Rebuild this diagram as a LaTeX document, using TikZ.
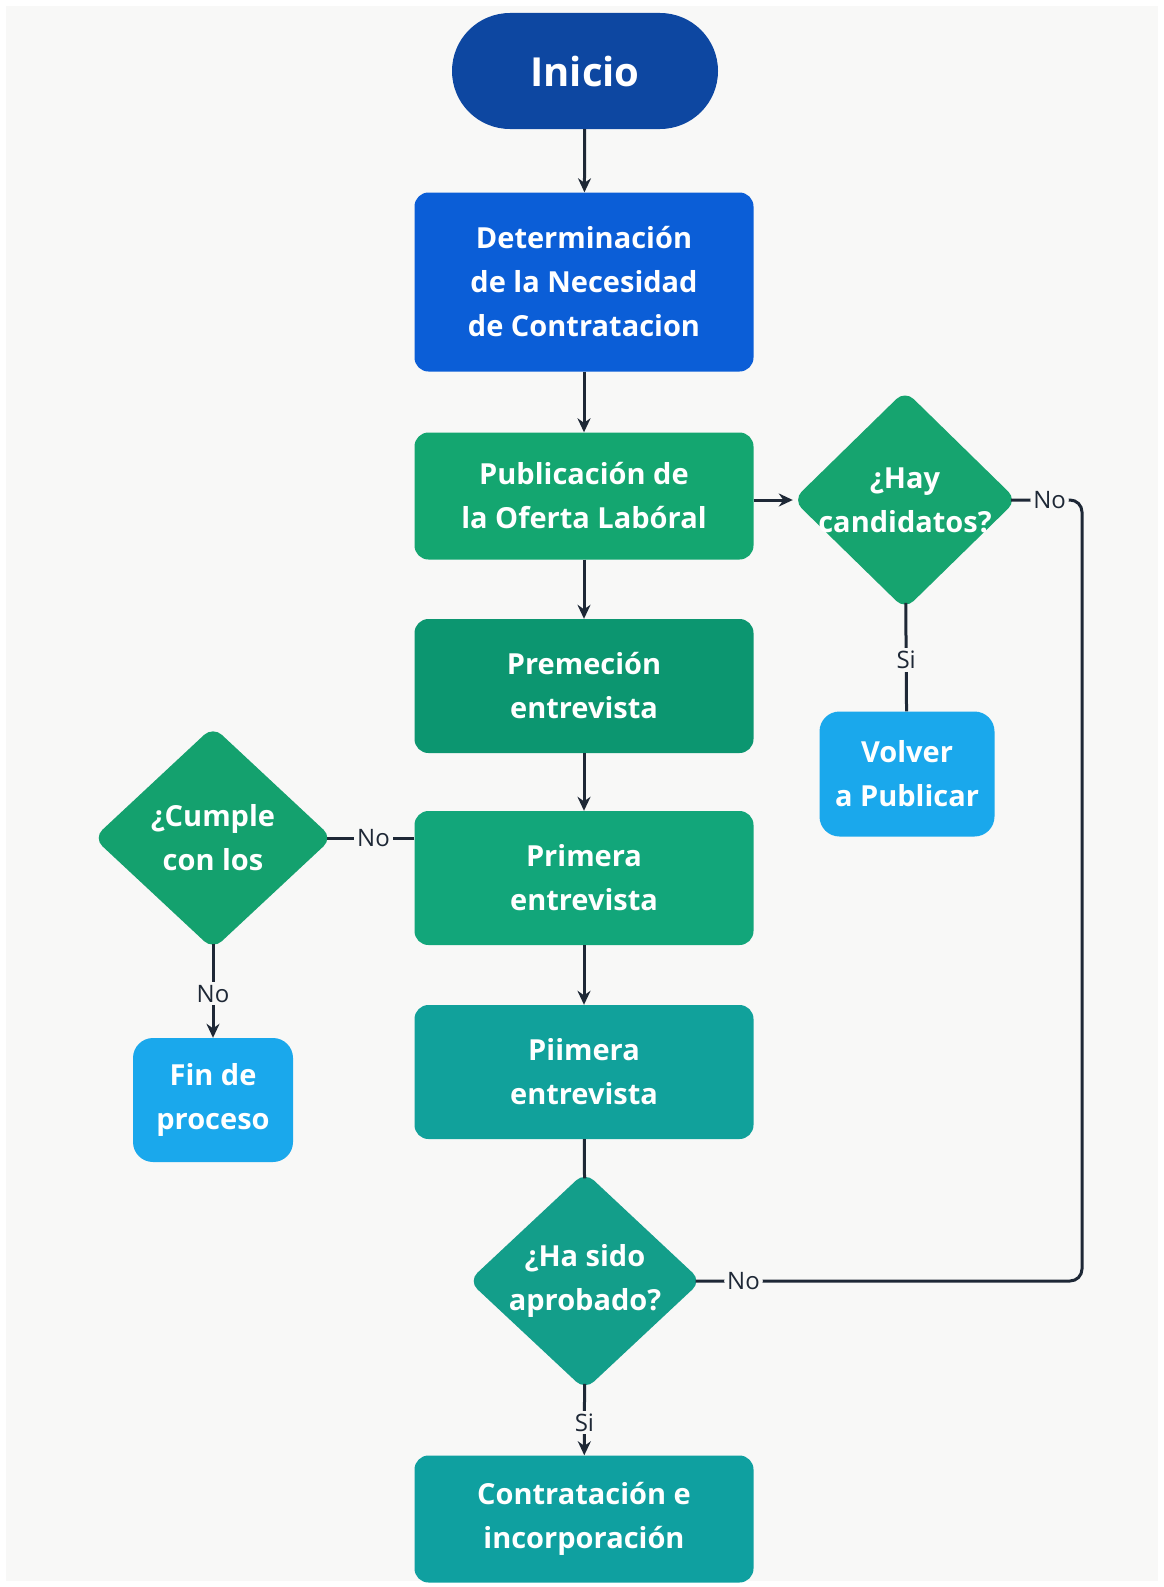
\documentclass[tikz,border=0pt]{standalone}
\usepackage{fontspec}
\setmainfont{Open Sans}
\usetikzlibrary{shapes.geometric,arrows.meta}

\definecolor{bgcol}{HTML}{F8F8F7}
\definecolor{linecol}{HTML}{1E2836}
\definecolor{inicol}{HTML}{0D47A1}
\definecolor{detcol}{HTML}{0B5ED7}
\definecolor{pubcol}{HTML}{14A670}
\definecolor{premcol}{HTML}{0C9670}
\definecolor{primcol}{HTML}{12A67A}
\definecolor{piimcol}{HTML}{11A19B}
\definecolor{contcol}{HTML}{0FA0A0}
\definecolor{haycol}{HTML}{16A46F}
\definecolor{cumcol}{HTML}{14A16E}
\definecolor{aprcol}{HTML}{139E8A}
\definecolor{endcol}{HTML}{1AA8EC}

\begin{document}
\begin{tikzpicture}[x=1pt,y=-1pt,
  box/.style={rectangle, rounded corners=14pt, minimum width=339pt, inner sep=0pt,
    text=white, align=center, font=\fontsize{29}{44}\selectfont\bfseries},
  endbox/.style={box, fill=endcol, rounded corners=20pt},
  decision/.style={diamond, aspect=1, inner sep=0pt, rounded corners=12pt},
  dtext/.style={text=white, align=center, font=\fontsize{29}{44}\selectfont\bfseries},
  line/.style={draw=linecol, line width=3pt},
  arrow/.style={line, -{Stealth[length=14pt,width=13pt]}},
  lbl/.style={fill=bgcol, inner sep=3pt, text=linecol, font=\fontsize{24}{28}\selectfont}]

\useasboundingbox (0,0) rectangle (1164,1587);
\fill[white] (0,0) rectangle (1164,1587);
\fill[bgcol] (6,6) rectangle (1158,1581);

% main column
\node [box, fill=inicol, minimum width=266pt, minimum height=116pt, rounded corners=58pt,
  font=\fontsize{40}{44}\selectfont\bfseries] (inicio) at (585,71) {Inicio};
\node [box, fill=detcol, minimum height=179pt] (det) at (584,282)
  {Determinación\\de la Necesidad\\de Contratacion};
\node [box, fill=pubcol, minimum height=127pt] (pub) at (584,496)
  {Publicación de\\la Oferta Labóral};
\node [box, fill=premcol, minimum height=134pt] (prem) at (584,686)
  {Premeción\\entrevista};
\node [box, fill=primcol, minimum height=134pt] (prim) at (584,878)
  {Primera\\entrevista};
\node [box, fill=piimcol, minimum height=134pt] (piim) at (584,1072)
  {Piimera\\entrevista};
\node [decision, fill=aprcol, minimum width=233pt, minimum height=218pt,
  label={[dtext]center:{¿Ha sido\\aprobado?}}] (aprob) at (585,1281) {};
\node [box, fill=contcol, minimum height=127pt] (contr) at (584,1519)
  {Contratación e\\incorporación};

% right branch
\node [decision, fill=haycol, minimum width=224pt, minimum height=219pt,
  label={[dtext]center:{¿Hay\\candidatos?}}] (hay) at (905,500) {};
\node [endbox, minimum width=175pt, minimum height=125pt] (volver) at (907,774)
  {Volver\\a Publicar};

% left branch
\node [decision, fill=cumcol, minimum width=239pt, minimum height=223pt,
  label={[dtext]center:{¿Cumple\\con los}}] (cumple) at (213,838) {};
\node [endbox, minimum width=160pt, minimum height=124pt] (fin) at (213,1100)
  {Fin de\\proceso};

\coordinate (looptop) at (1082,500);
\coordinate (loopbot) at (1082,1281);

\draw [arrow] (inicio) -- (det);
\draw [arrow] (det) -- (pub);
\draw [arrow] (pub) -- (prem);
\draw [arrow] (prem) -- (prim);
\draw [arrow] (prim) -- (piim);
\draw [line, shorten >=-6pt] (piim) -- (aprob);
\draw [arrow, shorten <=-6pt] (aprob) -- node[lbl]{Si} (contr);

\draw [arrow] (pub.east |- hay.west) -- (hay.west);
\draw [line, shorten <=-6pt] (hay) -- node[lbl]{Si} (volver);
\draw [line, rounded corners=12pt, shorten <=-6pt, shorten >=-6pt] (hay.east)
  -- node[lbl]{No} (looptop) -- (loopbot) -- node[lbl, pos=0.89]{No} (aprob.east);

\draw [line, shorten >=-6pt] (prim.west |- cumple.east) -- node[lbl]{No} (cumple.east);
\draw [arrow, shorten <=-6pt] (cumple) -- node[lbl]{No} (fin);

\end{tikzpicture}
\end{document}
